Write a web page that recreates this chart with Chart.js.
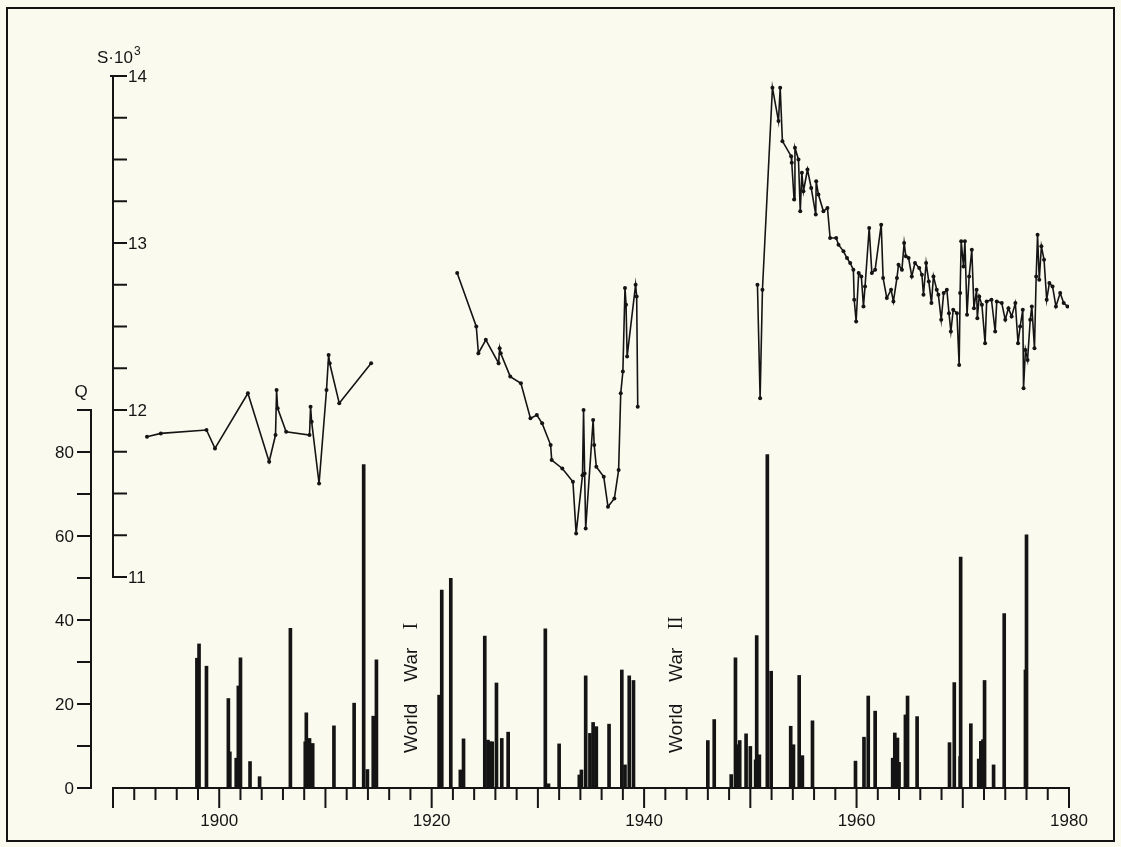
<!DOCTYPE html>
<html>
<head>
<meta charset="utf-8">
<title>Salinity S and discharge Q, 1890–1980</title>
<script src="https://cdn.jsdelivr.net/npm/chart.js@4.4.1/dist/chart.umd.min.js"></script>
<style>
  html, body { margin: 0; padding: 0; background: #fbfaee; }
  canvas { display: block; }
</style>
</head>
<body>
<canvas id="chart" width="1121" height="847"></canvas>
<script>
// ---- salinity S·10^3, three observation periods ----
const sYears1 = [1893.2, 1894.5, 1898.8, 1899.6, 1902.7, 1904.7, 1905.3, 1905.4, 1905.5, 1906.3,
  1908.5, 1908.6, 1908.7, 1909.4, 1910.1, 1910.3, 1910.4, 1911.3, 1914.3];
const sValues1 = [11.84, 11.86, 11.88, 11.77, 12.10, 11.69, 11.85, 12.12, 12.01, 11.87,
  11.85, 12.02, 11.93, 11.56, 12.12, 12.33, 12.28, 12.04, 12.28];

const sYears2 = [1922.4, 1924.2, 1924.4, 1925.1, 1926.3, 1926.4, 1926.5, 1927.4, 1928.4, 1929.3,
  1929.9, 1930.4, 1931.2, 1931.3, 1932.3, 1933.3, 1933.6, 1934.2, 1934.3, 1934.4,
  1934.5, 1935.2, 1935.3, 1935.5, 1936.2, 1936.6, 1937.2, 1937.6, 1937.8, 1938.0,
  1938.2, 1938.3, 1938.4, 1939.2, 1939.3, 1939.4];
const sValues2 = [12.82, 12.50, 12.34, 12.42, 12.28, 12.37, 12.34, 12.20, 12.16, 11.95,
  11.97, 11.92, 11.79, 11.70, 11.65, 11.57, 11.26, 11.61, 12.00, 11.62,
  11.29, 11.94, 11.79, 11.66, 11.60, 11.42, 11.47, 11.64, 12.10, 12.23,
  12.73, 12.63, 12.32, 12.75, 12.68, 12.02];

const sYears3 = [1950.67, 1950.92, 1951.14, 1952.08, 1952.65, 1952.81, 1953.02, 1953.84, 1953.9, 1954.12,
  1954.2, 1954.53, 1954.7, 1954.85, 1955.0, 1955.38, 1955.73, 1956.16, 1956.2, 1956.41,
  1956.88, 1957.26, 1957.51, 1958.08, 1958.3, 1958.77, 1959.1, 1959.4, 1959.7, 1959.78,
  1959.96, 1960.2, 1960.45, 1960.65, 1960.8, 1961.19, 1961.44, 1961.75, 1962.32, 1962.5,
  1962.85, 1963.25, 1963.47, 1963.8, 1963.95, 1964.27, 1964.48, 1964.64, 1964.9, 1965.2,
  1965.5, 1965.9, 1966.15, 1966.3, 1966.55, 1966.8, 1967.05, 1967.24, 1967.55, 1967.7,
  1967.97, 1968.2, 1968.5, 1968.7, 1968.88, 1969.1, 1969.45, 1969.66, 1969.75, 1969.85,
  1970.07, 1970.2, 1970.4, 1970.6, 1970.85, 1971.05, 1971.3, 1971.37, 1971.55, 1971.8,
  1972.1, 1972.25, 1972.7, 1973.05, 1973.2, 1973.67, 1974.0, 1974.3, 1974.6, 1974.95,
  1975.2, 1975.4, 1975.65, 1975.72, 1975.9, 1976.1, 1976.35, 1976.5, 1976.75, 1976.91,
  1977.04, 1977.2, 1977.4, 1977.65, 1977.9, 1978.15, 1978.45, 1978.77, 1979.17, 1979.5,
  1979.86];
const sValues3 = [12.75, 12.07, 12.72, 13.93, 13.73, 13.93, 13.61, 13.52, 13.48, 13.26,
  13.57, 13.50, 13.19, 13.42, 13.31, 13.44, 13.33, 13.17, 13.37, 13.29,
  13.19, 13.21, 13.03, 13.03, 12.99, 12.95, 12.91, 12.88, 12.84, 12.66,
  12.53, 12.82, 12.80, 12.62, 12.74, 13.09, 12.82, 12.84, 13.11, 12.79,
  12.67, 12.72, 12.65, 12.79, 12.87, 12.84, 13.00, 12.92, 12.91, 12.80,
  12.88, 12.85, 12.81, 12.69, 12.88, 12.77, 12.64, 12.80, 12.72, 12.69,
  12.54, 12.70, 12.72, 12.58, 12.47, 12.60, 12.58, 12.27, 12.70, 13.01,
  12.86, 13.01, 12.57, 12.80, 12.96, 12.61, 12.72, 12.55, 12.68, 12.63,
  12.40, 12.65, 12.66, 12.47, 12.65, 12.64, 12.54, 12.61, 12.56, 12.64,
  12.40, 12.50, 12.60, 12.13, 12.36, 12.30, 12.54, 12.62, 12.37, 12.80,
  13.05, 12.78, 12.98, 12.90, 12.66, 12.76, 12.74, 12.62, 12.70, 12.64,
  12.62];

// ---- discharge events Q ----
const qYears = [1897.9, 1898.1, 1898.8, 1900.86, 1901.0, 1901.6, 1901.8, 1902.0, 1902.9, 1903.8,
  1906.7, 1908.1, 1908.2, 1908.5, 1908.8, 1910.8, 1912.7, 1913.6, 1913.95, 1914.5,
  1914.8, 1920.7, 1920.95, 1921.8, 1922.7, 1923.0, 1925.0, 1925.3, 1925.5, 1925.7,
  1926.1, 1926.6, 1927.2, 1930.7, 1931.0, 1932.0, 1933.9, 1934.1, 1934.5, 1934.9,
  1935.2, 1935.5, 1936.7, 1937.9, 1938.2, 1938.6, 1939.0, 1946.0, 1946.6, 1948.2,
  1948.6, 1948.75, 1949.0, 1949.6, 1950.0, 1950.5, 1950.6, 1950.85, 1951.6, 1951.96,
  1953.8, 1954.06, 1954.6, 1954.9, 1955.85, 1959.9, 1960.7, 1961.1, 1961.75, 1963.4,
  1963.6, 1963.85, 1964.0, 1964.6, 1964.8, 1965.7, 1968.75, 1969.2, 1969.75, 1969.8,
  1970.76, 1971.5, 1971.7, 1971.9, 1972.05, 1972.9, 1973.9, 1975.9, 1976.0];
const qValues = [30.9, 34.3, 29.0, 21.3, 8.6, 7.1, 24.3, 31.0, 6.3, 2.7,
  38.0, 11.0, 17.9, 11.8, 10.6, 14.8, 20.2, 77.0, 4.4, 17.1,
  30.5, 22.1, 47.1, 49.9, 4.3, 11.7, 36.2, 11.4, 11.0, 11.0,
  25.0, 11.8, 13.3, 37.9, 1.0, 10.5, 3.1, 4.3, 26.7, 13.0,
  15.6, 14.6, 15.2, 28.1, 5.5, 26.7, 25.6, 11.3, 16.3, 3.2,
  31.0, 10.3, 11.3, 12.9, 9.9, 6.7, 36.3, 7.9, 79.4, 27.8,
  14.7, 10.3, 26.8, 7.7, 16.0, 6.4, 12.1, 21.9, 18.3, 7.1,
  13.1, 11.9, 6.1, 17.4, 21.9, 17.0, 10.8, 25.1, 7.5, 55.0,
  15.3, 6.9, 11.1, 11.5, 25.6, 5.5, 41.5, 28.1, 60.3];

// ---- axes: tick positions and labels ----
const xLabelYears = [1900, 1920, 1940, 1960, 1980];
const sTickStep = 0.25;
const sLabelValues = [11, 12, 13, 14];
const qTickStep = 10;
const qLabelValues = [0, 20, 40, 60, 80];
const warLabels = [
  { year: 1918.0, words: ['World', 'War'], numeral: 'I' },
  { year: 1942.9, words: ['World', 'War'], numeral: 'II' }
];

const INK = '#141414';
const PAPER = '#fbfaee';
const SANS = '"Liberation Sans", Arial, sans-serif';
const SERIF = '"Liberation Serif", "DejaVu Serif", serif';

const toPoints = (xs, ys) => xs.map((x, i) => ({ x: x, y: ys[i] }));

const paperPlugin = {
  id: 'paper',
  beforeDraw(chart) {
    const ctx = chart.ctx;
    ctx.save();
    ctx.fillStyle = PAPER;
    ctx.fillRect(0, 0, chart.width, chart.height);
    ctx.restore();
  },
  afterDatasetsDraw(chart) {
    const { ctx, chartArea, scales } = chart;
    const x = scales.x, yS = scales.yS, yQ = scales.yQ;
    const seg = (x1, y1, x2, y2) => { ctx.beginPath(); ctx.moveTo(x1, y1); ctx.lineTo(x2, y2); ctx.stroke(); };
    ctx.save();
    ctx.strokeStyle = INK;
    ctx.fillStyle = INK;
    ctx.lineWidth = 2;
    ctx.lineCap = 'butt';

    // time axis
    const y0 = yQ.getPixelForValue(0);
    seg(x.getPixelForValue(x.min) - 1, y0, x.getPixelForValue(x.max) + 1, y0);
    for (let yr = x.min; yr <= x.max; yr += 2) {
      const px = x.getPixelForValue(yr);
      seg(px, y0 - 1, px, y0 + (yr % 10 === 0 ? 20 : 12));
    }
    ctx.font = '17px ' + SANS;
    ctx.textAlign = 'center';
    ctx.textBaseline = 'alphabetic';
    xLabelYears.forEach(yr => ctx.fillText(String(yr), x.getPixelForValue(yr), y0 + 38));

    // salinity axis along the left edge of the plot
    const xS = chartArea.left;
    seg(xS, yS.getPixelForValue(14) - 1, xS, yS.getPixelForValue(11) + 1);
    for (let v = 11; v <= 14.0001; v += sTickStep) {
      const py = yS.getPixelForValue(v);
      seg(v > 13.9 ? xS - 3 : xS, py, xS + 14, py);
    }
    ctx.textAlign = 'left';
    ctx.textBaseline = 'middle';
    sLabelValues.forEach(v => ctx.fillText(String(v), xS + 15, yS.getPixelForValue(v) + 1));
    ctx.textBaseline = 'alphabetic';
    ctx.fillText('S·10', xS - 16, yS.getPixelForValue(14) - 13);
    const w = ctx.measureText('S·10').width;
    ctx.font = '12px ' + SANS;
    ctx.fillText('3', xS - 16 + w + 1, yS.getPixelForValue(14) - 21);

    // discharge axis, offset to the left
    const xQ = chartArea.left - 22;
    seg(xQ, yQ.getPixelForValue(90) - 1, xQ, y0 + 1);
    for (let v = 0; v <= 90; v += qTickStep) {
      const py = yQ.getPixelForValue(v);
      seg(xQ - 14, py, xQ, py);
    }
    ctx.font = '17px ' + SANS;
    ctx.textAlign = 'right';
    ctx.textBaseline = 'middle';
    qLabelValues.forEach(v => ctx.fillText(String(v), xQ - 17, yQ.getPixelForValue(v) + 1));
    ctx.textAlign = 'center';
    ctx.textBaseline = 'alphabetic';
    ctx.fillText('Q', xQ - 10, yQ.getPixelForValue(90) - 13);

    // war periods, written upward
    warLabels.forEach(lab => {
      ctx.save();
      ctx.translate(x.getPixelForValue(lab.year) + 7, y0 - 35);
      ctx.rotate(-Math.PI / 2);
      ctx.textAlign = 'left';
      ctx.textBaseline = 'alphabetic';
      ctx.font = '19px ' + SANS;
      let pos = 0;
      lab.words.forEach(word => {
        ctx.fillText(word, pos, 0);
        pos += ctx.measureText(word).width + 22;
      });
      ctx.font = '20px ' + SERIF;
      ctx.fillText(lab.numeral, pos - 4, 0);
      ctx.restore();
    });

    // page frame
    ctx.lineWidth = 2;
    ctx.strokeRect(7, 8, chart.width - 14, chart.height - 14);
    ctx.restore();
  }
};

const lineStyle = {
  type: 'line',
  xAxisID: 'x',
  yAxisID: 'yS',
  borderColor: INK,
  borderWidth: 1.6,
  pointRadius: 2,
  pointBackgroundColor: INK,
  pointBorderWidth: 0,
  tension: 0,
  fill: false,
  order: 1
};

new Chart(document.getElementById('chart'), {
  type: 'bar',
  data: {
    datasets: [
      Object.assign({ label: 'S 1893–1914', data: toPoints(sYears1, sValues1) }, lineStyle),
      Object.assign({ label: 'S 1922–1939', data: toPoints(sYears2, sValues2) }, lineStyle),
      Object.assign({ label: 'S 1950–1980', data: toPoints(sYears3, sValues3) }, lineStyle),
      {
        type: 'bar',
        label: 'Q',
        data: toPoints(qYears, qValues),
        xAxisID: 'x',
        yAxisID: 'yQ',
        backgroundColor: INK,
        borderWidth: 0,
        barThickness: 3,
        order: 2
      }
    ]
  },
  options: {
    responsive: false,
    animation: false,
    layout: { padding: { left: 113, right: 52, top: 76, bottom: 59 } },
    plugins: { legend: { display: false }, tooltip: { enabled: false } },
    scales: {
      x: { type: 'linear', min: 1890, max: 1980, offset: false, display: false },
      yS: { type: 'linear', min: 9.7365, max: 14, display: false },
      yQ: { type: 'linear', min: 0, max: 169.52, display: false }
    }
  },
  plugins: [paperPlugin]
});
</script>
</body>
</html>
